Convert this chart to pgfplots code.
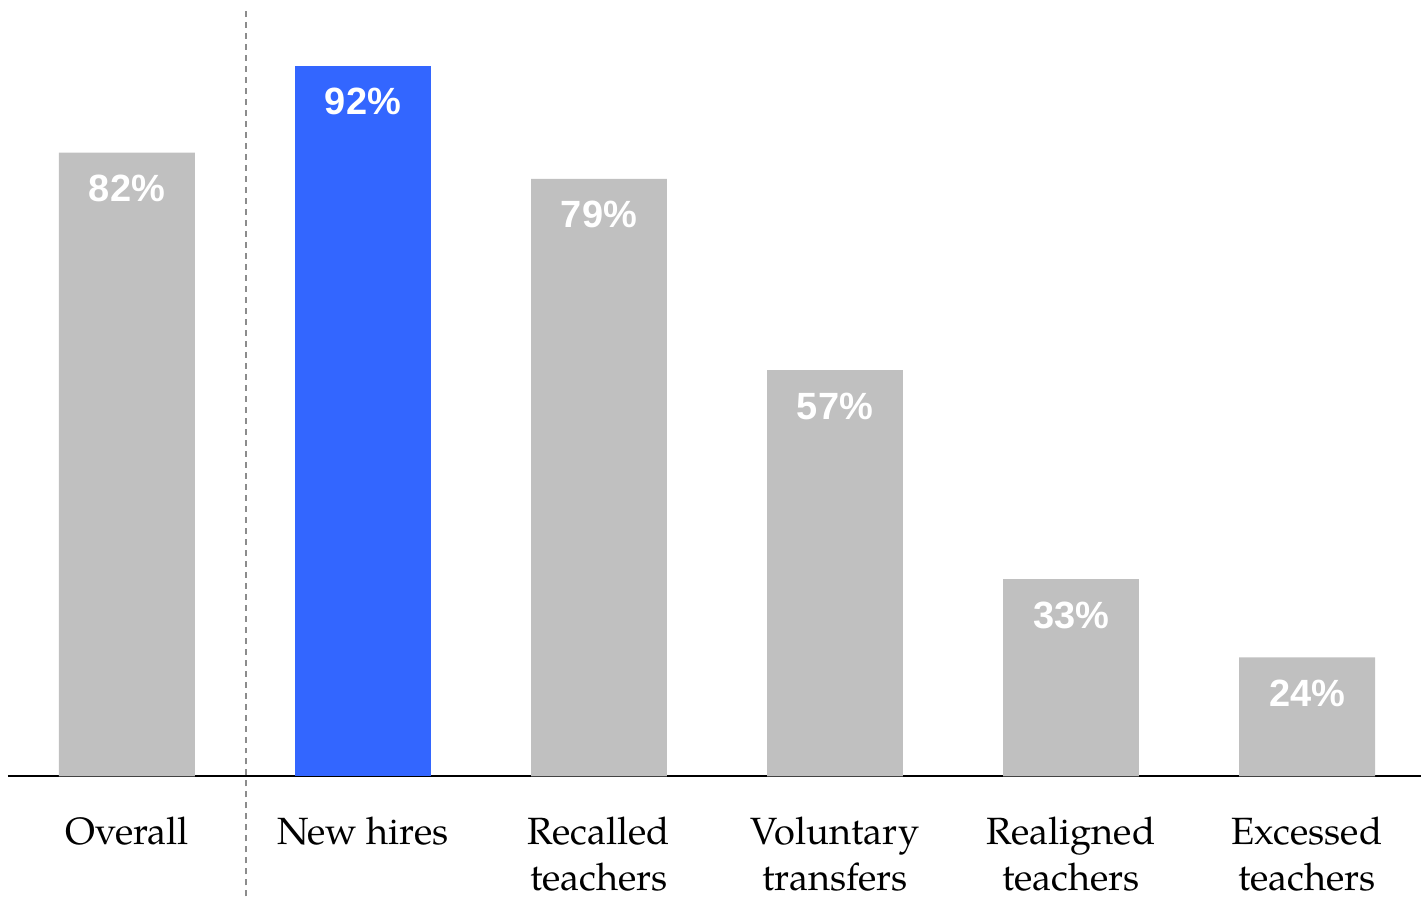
\documentclass[border=0pt]{standalone}
\usepackage{fontspec}
\setmainfont{TeX Gyre Pagella}
\newfontfamily\valfont{Liberation Sans}
\usepackage{pgfplots}
\pgfplotsset{compat=1.18}
\definecolor{barGray}{RGB}{192,192,192}
\definecolor{barBlue}{RGB}{51,102,255}
\definecolor{dashGray}{RGB}{140,140,140}
\begin{document}
\begin{tikzpicture}
\begin{axis}[
  name=ax,
  scale only axis,
  width=707pt, height=384.5pt,
  xmin=-0.504, xmax=5.483,
  ymin=10.33, ymax=98.62,
  clip mode=individual,
  axis x line*=bottom,
  axis y line=none,
  axis line style={line width=1pt, black, -},
  xtick={0,1,2,3,4,5},
  xticklabels={Overall, New hires, Recalled\\teachers, Voluntary\\transfers, Realigned\\teachers, Excessed\\teachers},
  major tick length=0pt,
  xticklabel style={anchor=north, inner sep=0pt, yshift=-20pt, align=center,
    font=\fontsize{19}{23}\selectfont},
  ytick=\empty,
  /pgf/number format/assume math mode=true,
  nodes near coords={\pgfmathprintnumber{\pgfplotspointmeta}\%},
  every node near coord/.append style={anchor=north, inner sep=0pt, yshift=-11pt,
    text=white, font=\valfont\bfseries\fontsize{19}{19}\selectfont},
]
\addplot[ybar, bar width=0.576, bar shift=0pt, fill=barGray, draw=none]
  coordinates {(0,82) (2,79) (3,57) (4,33) (5,24)};
\addplot[ybar, bar width=0.576, bar shift=0pt, fill=barBlue, draw=none]
  coordinates {(1,92)};
\draw[dashGray, line width=0.75pt, dash pattern=on 3pt off 2.5pt]
  (axis cs:0.504,-3.45) -- (axis cs:0.504,98.62);
\end{axis}
\path ([shift={(-4pt,-61.5pt)}]ax.south west) rectangle ([shift={(0pt,4pt)}]ax.north east);
\end{tikzpicture}
\end{document}
